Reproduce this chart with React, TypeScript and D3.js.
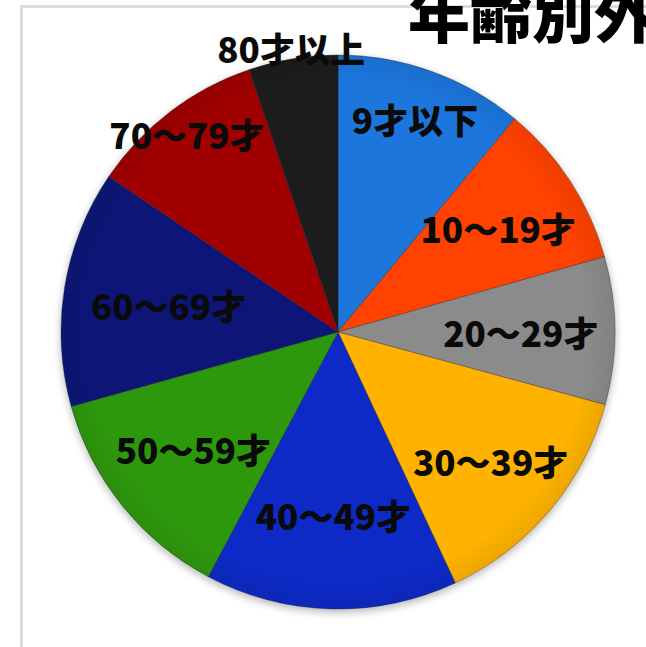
import React from "react";
import * as d3 from "d3";

const categories = ["9才以下", "10～19才", "20～29才", "30～39才", "40～49才", "50～59才", "60～69才", "70～79才", "80才以上"];
const values = [11.0, 9.6, 8.6, 13.8, 14.7, 12.9, 13.8, 10.3, 5.2];
const colors = ["#1f76dc", "#ff4306", "#8b8b8b", "#ffb300", "#0b2bc6", "#2f9811", "#0a1777", "#a00202", "#1e1e1e"];
const labelRadius = [0.82, 0.69, 0.66, 0.72, 0.66, 0.67, 0.62, 0.9, 1.04];
const title = "年齢別外";

const W = 646;
const H = 647;
const cx = 338;
const cy = 332;
const R = 277;

export default function App() {
  const pie = d3.pie<number>().sort(null).startAngle(0).endAngle(2 * Math.PI).value((d) => d);
  const arcs = pie(values);
  const arc = d3.arc<d3.PieArcDatum<number>>().innerRadius(0).outerRadius(R);
  return (
    <svg width={W} height={H} style={{ position: "absolute", left: 0, top: 0, background: "#fff" }}
      fontFamily="'Noto Sans CJK JP', 'Noto Sans', sans-serif">
      <defs>
        <filter id="sh" x="-20%" y="-20%" width="140%" height="140%">
          <feGaussianBlur in="SourceAlpha" stdDeviation="4" />
          <feOffset dy="3" />
          <feComponentTransfer><feFuncA type="linear" slope="0.3" /></feComponentTransfer>
          <feMerge><feMergeNode /><feMergeNode in="SourceGraphic" /></feMerge>
        </filter>
        <radialGradient id="gl" cx="0.5" cy="0.5" r="0.5">
          <stop offset="0.9" stopColor="#000" stopOpacity="0" />
          <stop offset="1" stopColor="#000" stopOpacity="0.07" />
        </radialGradient>
      </defs>
      <rect x={21.5} y={6.5} width={W} height={H} fill="none" stroke="#dcdcdc" strokeWidth={3} />
      <g transform={`translate(${cx},${cy})`}>
        <g filter="url(#sh)">
          {arcs.map((a, i) => (
            <path key={i} d={arc(a) || ""} fill={colors[i]} stroke="#222" strokeOpacity={0.35} strokeWidth={1} />
          ))}
        </g>
        <circle r={R} fill="url(#gl)" />
        {arcs.map((a, i) => {
          const r = R * labelRadius[i];
          const [x, y] = d3.arc<d3.PieArcDatum<number>>().innerRadius(r).outerRadius(r).centroid(a);
          return (
            <text key={i} x={x} y={y} textAnchor="middle" dominantBaseline="central" fontSize={35}
              fontWeight={900} fill="#0a0a0a">{categories[i]}</text>
          );
        })}
      </g>
      <text x={408} y={38} fontSize={62} fontWeight={900} fill="#000">{title}</text>
    </svg>
  );
}
